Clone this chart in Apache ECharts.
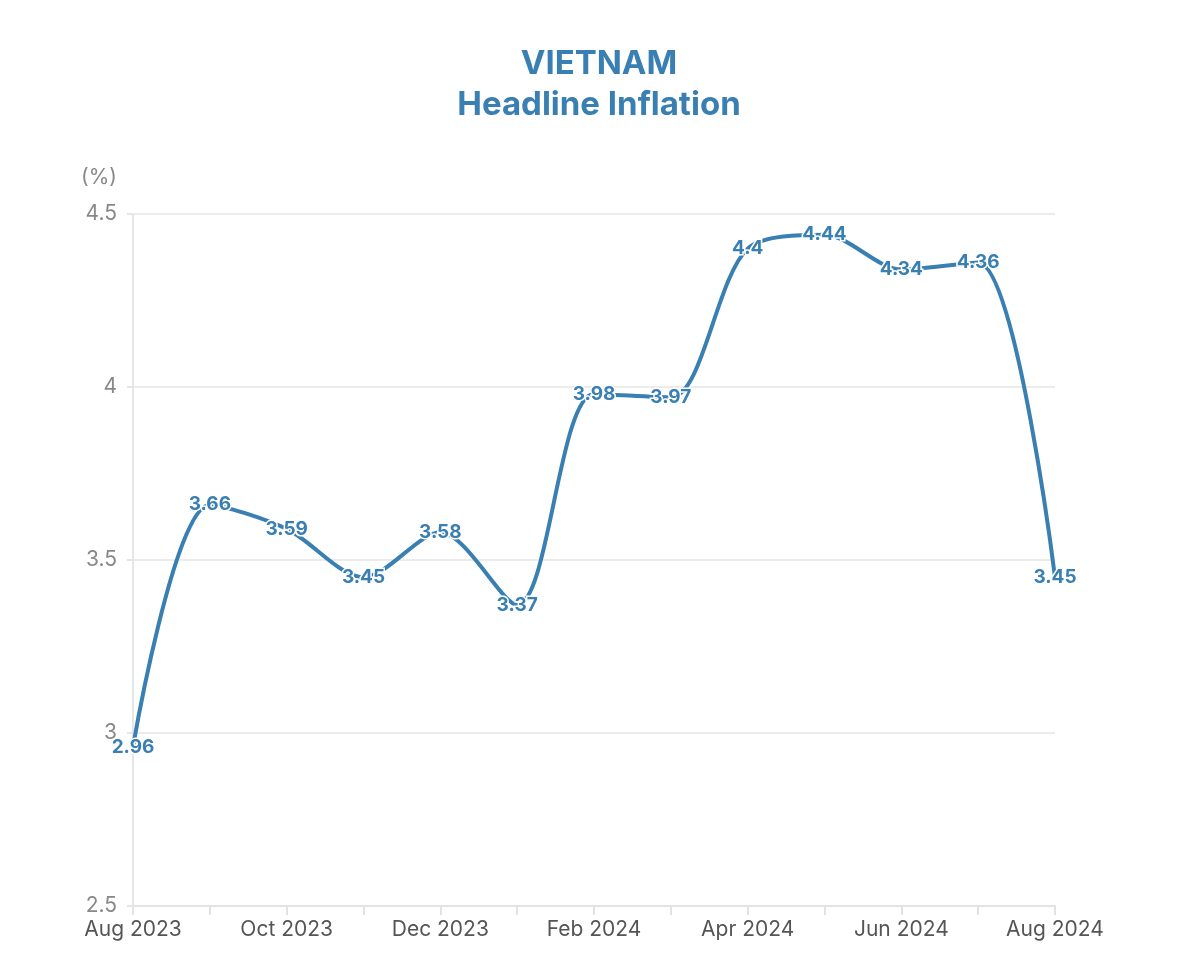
<!DOCTYPE html>
<html>
<head>
<meta charset="utf-8">
<script src="https://cdn.jsdelivr.net/npm/echarts@6/dist/echarts.min.js"></script>
<style>
  html, body { margin: 0; padding: 0; background: #fff; }
  #chart { width: 1200px; height: 964px; }
</style>
</head>
<body>
<div id="chart"></div>
<script>
// headline inflation, % y/y
var months = ["Aug 2023", "Sep 2023", "Oct 2023", "Nov 2023", "Dec 2023", "Jan 2024", "Feb 2024",
  "Mar 2024", "Apr 2024", "May 2024", "Jun 2024", "Jul 2024", "Aug 2024"];
var inflation = [2.96, 3.66, 3.59, 3.45, 3.58, 3.37, 3.98, 3.97, 4.4, 4.44, 4.34, 4.36, 3.45];
var yTicks = [2.5, 3, 3.5, 4, 4.5];

var blue = "#3a7fb1";
var chart = echarts.init(document.getElementById("chart"));
chart.setOption({
  animation: false,
  title: {
    text: "VIETNAM\nHeadline Inflation",
    left: 594,
    top: 39,
    textAlign: "center",
    textStyle: {
      fontFamily: "Inter",
      fontSize: 33,
      fontWeight: "bold",
      color: blue,
      lineHeight: 41
    }
  },
  grid: { left: 133, right: 145, top: 214, bottom: 58 },
  xAxis: {
    type: "category",
    data: months,
    boundaryGap: false,
    axisLine: { lineStyle: { color: "#e3e3e3", width: 2 } },
    axisTick: { show: true, interval: 0, length: 9, lineStyle: { color: "#e3e3e3", width: 2 } },
    axisLabel: {
      interval: 1,
      color: "#555",
      fontFamily: "Inter",
      fontSize: 21,
      margin: 13
    }
  },
  yAxis: {
    type: "value",
    min: yTicks[0],
    max: yTicks[yTicks.length - 1],
    interval: 0.5,
    name: "(%)",
    nameLocation: "end",
    nameGap: 26,
    nameTextStyle: { color: "#888", fontFamily: "Inter", fontSize: 21, align: "right", padding: [0, 16, 0, 0] },
    axisLine: { show: true, lineStyle: { color: "#e6e6e6", width: 2 } },
    axisTick: { show: true, length: 6, lineStyle: { color: "#e6e6e6", width: 2 } },
    splitLine: { lineStyle: { color: "#ececec", width: 2 } },
    axisLabel: { color: "#888", fontFamily: "Inter", fontSize: 21, margin: 16 }
  },
  series: [{
    type: "line",
    data: inflation,
    smooth: 0.3,
    showSymbol: true,
    symbol: "circle",
    symbolSize: 2,
    itemStyle: { color: blue },
    lineStyle: { color: blue, width: 4 },
    label: {
      show: true,
      position: "inside",
      color: blue,
      fontFamily: "Inter",
      fontSize: 19,
      fontWeight: "bold",
      textBorderColor: "#fff",
      textBorderWidth: 3
    }
  }]
});
</script>
</body>
</html>
